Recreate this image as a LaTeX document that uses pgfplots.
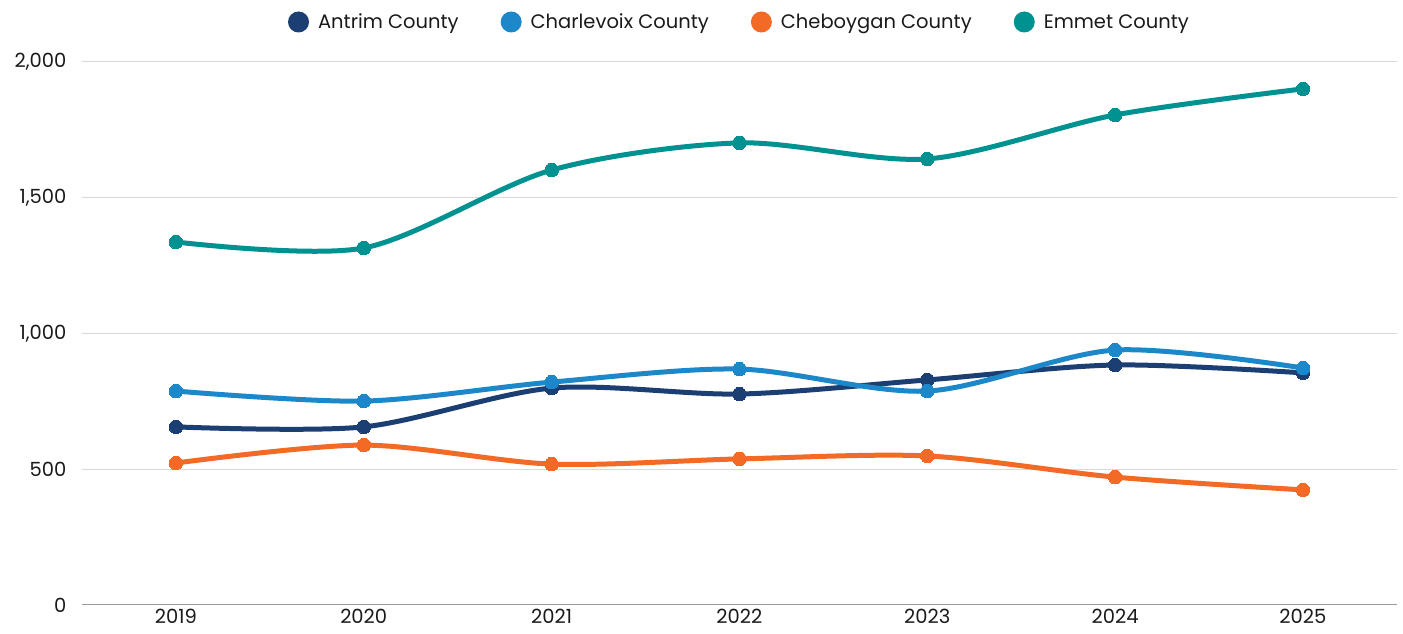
\documentclass[border=0pt]{standalone}
\usepackage{fontspec}
\setmainfont{Poppins}
\usepackage{pgfplots}
\pgfplotsset{compat=1.18}
\definecolor{antrim}{HTML}{1B3F73}
\definecolor{charl}{HTML}{1C88CA}
\definecolor{cheb}{HTML}{F26A25}
\definecolor{emmet}{HTML}{009191}
\definecolor{gridc}{HTML}{D9D9D9}
\definecolor{axc}{HTML}{9A9A9A}
\definecolor{txt}{HTML}{1A1A1A}
\begin{document}
\begin{tikzpicture}
\useasboundingbox (-82pt,-29pt) rectangle (1321pt,605pt);
\begin{axis}[
  at={(0pt,0pt)}, anchor=origin,
  scale only axis, width=1315pt, height=543pt,
  xmin=2018.5, xmax=2025.5, ymin=0, ymax=2000,
  xtick={2019,...,2025}, ytick={0,500,1000,1500,2000},
  xticklabel style={/pgf/number format/1000 sep={}},
  yticklabel style={/pgf/number format/1000 sep={,}},
  /pgf/number format/assume math mode=true,
  tick label style={font=\fontsize{19.5}{22}\selectfont, text=txt},
  xticklabel style={yshift=-1pt},
  yticklabel style={xshift=-12pt},
  ymajorgrids, grid style={gridc, line width=1pt},
  axis lines*=left,
  x axis line style={axc, line width=1pt, -},
  y axis line style={draw=none, -},
  major tick length=0pt,
  every axis plot/.append style={line width=5pt, smooth, mark=*, mark size=6.8pt, mark options={line width=0pt}},
  legend columns=4,
  legend style={at={(0.5,1)}, anchor=center, yshift=40pt, draw=none, fill=none,
    font=\fontsize{19.5}{22}\selectfont, text=txt,
    /tikz/every odd column/.append style={column sep=7pt},
    /tikz/every even column/.append style={column sep=40pt}},
  legend image code/.code={\fill[#1, draw=none] (0pt,0pt) circle (10.5pt);},
]
\addplot[antrim] coordinates {(2019,656) (2020,656) (2021,799) (2022,777) (2023,829) (2024,884) (2025,855)};
\addlegendentry{Antrim County}
\addplot[charl] coordinates {(2019,788) (2020,751) (2021,821) (2022,869) (2023,788) (2024,939) (2025,873)};
\addlegendentry{Charlevoix County}
\addplot[cheb] coordinates {(2019,523) (2020,589) (2021,519) (2022,538) (2023,549) (2024,471) (2025,424)};
\addlegendentry{Cheboygan County}
\addplot[emmet] coordinates {(2019,1337) (2020,1315) (2021,1602) (2022,1702) (2023,1643) (2024,1805) (2025,1901)};
\addlegendentry{Emmet County}
\end{axis}
\end{tikzpicture}
\end{document}
